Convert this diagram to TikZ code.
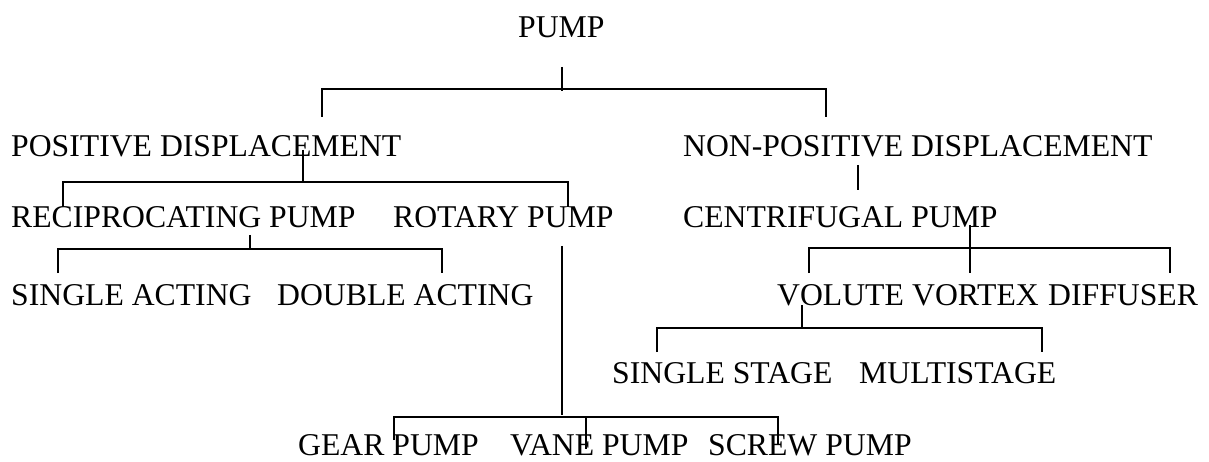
\documentclass[tikz,border=0pt]{standalone}
\usepackage{fontspec}
\setmainfont{Liberation Serif}
\usepackage{tikz}
\usetikzlibrary{positioning, calc}

\begin{document}
\begin{tikzpicture}[x=1pt, y=-1pt,
    lbl/.style={anchor=base west, inner sep=0pt, text height=21pt, text depth=0pt, font=\fontsize{31.7pt}{38pt}\selectfont},
    link/.style={line width=1.7pt}]
  \useasboundingbox (0,0) rectangle (1209,462);
  % the text rows
  \node[lbl] (pump) at (518,38) {PUMP};
  \node[lbl] (pd) at (11,157) {POSITIVE DISPLACEMENT};
  \node[lbl] (npd) at (683,157) {NON-POSITIVE DISPLACEMENT};
  \node[lbl] (recip) at (11,228) {RECIPROCATING PUMP};
  \node[lbl] (rotary) at (393,228) {ROTARY PUMP};
  \node[lbl] (centri) at (683,228) {CENTRIFUGAL PUMP};
  \node[lbl] (single) at (11,305) {SINGLE ACTING};
  \node[lbl] (double) at (277,305) {DOUBLE ACTING};
  \node[lbl] (volute) at (777,305) {VOLUTE};
  \node[lbl] (vortex) at (912,305) {VORTEX};
  \node[lbl] (diffuser) at (1048,305) {DIFFUSER};
  \node[lbl] (sstage) at (612,383) {SINGLE STAGE};
  \node[lbl] (multi) at (859,383) {MULTISTAGE};
  \node[lbl] (gear) at (298,455) {GEAR PUMP};
  \node[lbl] (vane) at (510,455) {VANE PUMP};
  \node[lbl] (screw) at (708,455) {SCREW PUMP};
  % pump
  \draw[link] ([xshift=44pt,yshift=-29pt]pump.base west) -- ([xshift=44pt,yshift=-53pt]pump.base west);
  \draw[link] ([xshift=311pt,yshift=40pt]pd.base west) |- ([xshift=143pt,yshift=68pt]npd.base west) -- ([xshift=143pt,yshift=40pt]npd.base west);
  % positive displacement
  \draw[link] ([xshift=292pt,yshift=7pt]pd.base west) -- ([xshift=292pt,yshift=-25pt]pd.base west);
  \draw[link] ([xshift=52pt,yshift=21pt]recip.base west) |- ([xshift=175pt,yshift=46pt]rotary.base west) -- ([xshift=175pt,yshift=21pt]rotary.base west);
  % non-positive displacement
  \draw[link] ([xshift=175pt,yshift=-8pt]npd.base west) -- ([xshift=175pt,yshift=-33pt]npd.base west);
  % reciprocating
  \draw[link] ([xshift=239pt,yshift=-7pt]recip.base west) -- ([xshift=239pt,yshift=-21pt]recip.base west);
  \draw[link] ([xshift=47pt,yshift=32pt]single.base west) |- ([xshift=165pt,yshift=56pt]double.base west) -- ([xshift=165pt,yshift=32pt]double.base west);
  % rotary
  \draw[link] ([xshift=169pt,yshift=-18pt]rotary.base west) -- ([xshift=169pt,yshift=-187pt]rotary.base west);
  \draw[link] ([xshift=96pt,yshift=15pt]gear.base west) |- ([xshift=70pt,yshift=38pt]screw.base west) -- ([xshift=70pt,yshift=10pt]screw.base west);
  \draw[link] ([xshift=76pt,yshift=38pt]vane.base west) -- ([xshift=76pt,yshift=6pt]vane.base west);
  % centrifugal
  \draw[link] ([xshift=287pt,yshift=3pt]centri.base west) -- ([xshift=58pt,yshift=32pt]vortex.base west);
  \draw[link] ([xshift=32pt,yshift=32pt]volute.base west) |- ([xshift=122pt,yshift=57pt]diffuser.base west) -- ([xshift=122pt,yshift=32pt]diffuser.base west);
  % volute
  \draw[link] ([xshift=25pt,yshift=0pt]volute.base west) -- ([xshift=25pt,yshift=-23pt]volute.base west);
  \draw[link] ([xshift=45pt,yshift=31pt]sstage.base west) |- ([xshift=183pt,yshift=55pt]multi.base west) -- ([xshift=183pt,yshift=31pt]multi.base west);
\end{tikzpicture}
\end{document}
